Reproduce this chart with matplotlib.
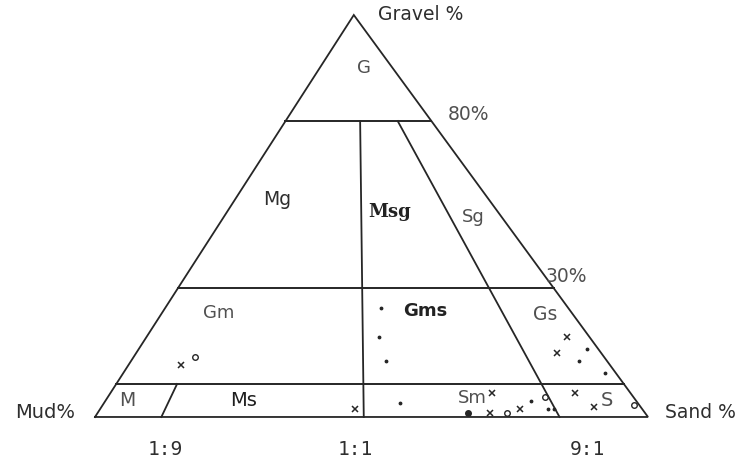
import matplotlib
matplotlib.use("Agg")
import matplotlib.pyplot as plt
import numpy as np

# Folk gravel-sand-mud triangle, compositions given as (gravel %, sand %, mud %)
apex_x = 0.468          # apex offset along the base (triangle is hand drawn, not equilateral)
band_levels = [73.6, 32.0, 8.2]   # gravel boundaries as drawn: 80 %, 30 %, 5 %
band_names = ["80%", "30%"]

# sand:mud boundaries, each as (start, end) compositions
split_lines = [
    ((73.6, 13.5, 12.9), (0.0, 48.6, 51.4)),    # 1:1
    ((73.6, 20.3, 6.1), (0.0, 84.0, 16.0)),     # sandy side
    ((8.2, 11.0, 80.8), (0.0, 12.0, 88.0)),     # M / Ms
]
ratio_ticks = ["1:9", "1:1", "9:1"]

# samples
cross_pts = np.array([[20, 76, 4], [16, 76, 8], [2, 46, 52], [6, 69, 25], [1, 71, 28],
                      [2, 76, 22], [6, 84, 10], [2.5, 89, 8.5], [13, 9.5, 77.5]])
ring_pts = np.array([[1, 74, 25], [5, 79, 16], [3, 96, 1], [15, 11, 74]])
solid_pts = np.array([[1, 67, 32]])
dot_pts = np.array([[27, 39, 34], [20, 42, 38], [14, 46, 40], [17, 81, 2], [14, 81, 5],
                    [11, 87, 2], [3.5, 53.5, 43], [4, 77, 19], [2, 81, 17], [2, 82, 16]])


def to_xy(comp):
    comp = np.atleast_2d(np.asarray(comp, dtype=float))
    g, s = comp[:, 0] / 100.0, comp[:, 1] / 100.0
    return apex_x * g + s, g


ink = "#262626"
dark = "#2e2e2e"
grey = "#505050"

fig = plt.figure(figsize=(7.44, 4.61), dpi=100)
ax = fig.add_axes([0, 0, 1, 1])
ax.set_xlim(-0.1718, 1.1736)
ax.set_ylim(-0.1095, 1.0373)
ax.axis("off")

# outline
corners = [(0, 0, 100), (0, 100, 0), (100, 0, 0), (0, 0, 100)]
x, y = to_xy(corners)
ax.plot(x, y, color=ink, lw=1.3, solid_joinstyle="miter")

# gravel bands
for lv in band_levels:
    x, y = to_xy([(lv, 0, 100 - lv), (lv, 100 - lv, 0)])
    ax.plot(x, y, color=ink, lw=1.4)

for a, b in split_lines:
    x, y = to_xy([a, b])
    ax.plot(x, y, color=ink, lw=1.3)

# samples
x, y = to_xy(cross_pts)
ax.plot(x, y, "x", color=ink, ms=5, mew=1.1)
x, y = to_xy(ring_pts)
ax.plot(x, y, "o", mfc="none", mec=ink, ms=4, mew=1.0)
x, y = to_xy(solid_pts)
ax.plot(x, y, "o", color=ink, ms=4)
x, y = to_xy(dot_pts)
ax.plot(x, y, ".", color=ink, ms=3.5)

sans = "DejaVu Sans"
kw = dict(ha="center", va="center", family=sans, color=grey)
kd = dict(ha="center", va="center", family=sans, color=dark)

ax.text(0.512, 1.001, "Gravel %", fontsize=13.5, ha="left", va="center",
        family=sans, color=dark)
ax.text(1.094, 0.012, "Sand %", fontsize=13.5, **kd)
ax.text(-0.090, 0.012, "Mud%", fontsize=14, **kd)
ax.text(0.676, 0.752, band_names[0], fontsize=13.5, **kw)
ax.text(0.853, 0.350, band_names[1], fontsize=13.5, **kw)

for lab, xp in zip(ratio_ticks, [0.127, 0.470, 0.890]):
    ax.text(xp, -0.080, lab, fontsize=14, ha="center", va="center",
            family="DejaVu Sans Mono", color=dark)

# class names
ax.text(0.486, 0.868, "G", fontsize=13, **kw)
ax.text(0.329, 0.540, "Mg", fontsize=13.5, **kd)
ax.text(0.532, 0.510, "Msg", fontsize=13, fontweight="bold", ha="center",
        va="center", family="DejaVu Serif", color="#222222")
ax.text(0.684, 0.498, "Sg", fontsize=13, **kw)
ax.text(0.224, 0.259, "Gm", fontsize=13, **kw)
ax.text(0.597, 0.264, "Gms", fontsize=13, fontweight="bold", ha="center",
        va="center", family=sans, color="#222222")
ax.text(0.814, 0.254, "Gs", fontsize=13.5, **kw)
ax.text(0.058, 0.042, "M", fontsize=13.5, **kw)
ax.text(0.269, 0.042, "Ms", fontsize=14, **{**kd, "color": "#1e1e1e"})
ax.text(0.682, 0.047, "Sm", fontsize=13, **kw)
ax.text(0.926, 0.040, "S", fontsize=14, **kw)

fig.savefig("out.png", dpi=100, facecolor="white")
